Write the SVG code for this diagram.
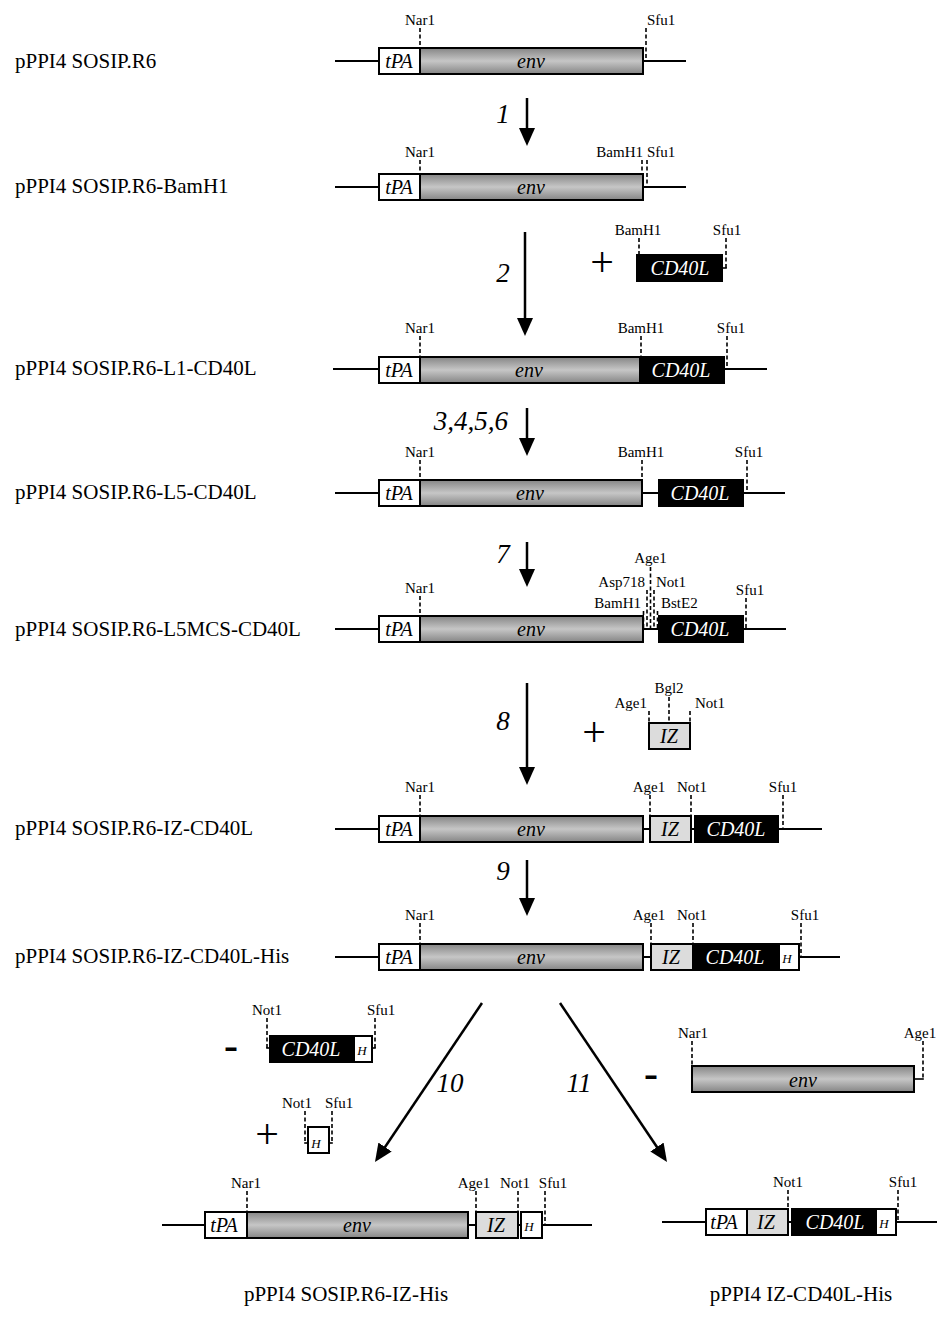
<svg xmlns="http://www.w3.org/2000/svg" width="938" height="1320" viewBox="0 0 938 1320">
<defs>
<linearGradient id="envg" x1="0" y1="0" x2="0" y2="1">
<stop offset="0" stop-color="#858585"/>
<stop offset="0.5" stop-color="#c6c6c6"/>
<stop offset="1" stop-color="#858585"/>
</linearGradient>
<marker id="ah" markerUnits="userSpaceOnUse" viewBox="0 0 18 16" markerWidth="18" markerHeight="16" refX="6" refY="8" orient="auto">
<path d="M0,0 L18,8 L0,16 z" fill="#000"/>
</marker>
</defs>
<style>
.ln{stroke:#000;stroke-width:2;fill:none}
.bx{stroke:#000;stroke-width:2}
.wt{fill:#fff}
.env{fill:url(#envg)}
.cd{fill:#000}
.iz{fill:#dcdcdc}
.cut{stroke:#000;stroke-width:1.6;stroke-dasharray:4 2.5;fill:none}
.tk{stroke:#000;stroke-width:1.6;fill:none}
.site{font-family:"Liberation Serif",serif;font-size:15px;fill:#000}
.mid{text-anchor:middle}
.end{text-anchor:end}
.title{font-family:"Liberation Serif",serif;font-size:21px;fill:#000}
.it{font-family:"Liberation Serif",serif;font-style:italic;font-size:20px;text-anchor:middle;fill:#000}
.itw{fill:#fff}
.hs{font-size:13px}
.step{font-family:"Liberation Serif",serif;font-style:italic;font-size:27px;fill:#000}
.sym{font-family:"Liberation Serif",serif;font-size:42px;text-anchor:middle;fill:#000}
.minus{font-weight:bold}
.arr{stroke:#000;stroke-width:2.5;fill:none;marker-end:url(#ah)}
</style>

<g id="titles">
<text class="title" x="15" y="68">pPPI4 SOSIP.R6</text>
<text class="title" x="15" y="193">pPPI4 SOSIP.R6-BamH1</text>
<text class="title" x="15" y="375">pPPI4 SOSIP.R6-L1-CD40L</text>
<text class="title" x="15" y="499">pPPI4 SOSIP.R6-L5-CD40L</text>
<text class="title" x="15" y="636">pPPI4 SOSIP.R6-L5MCS-CD40L</text>
<text class="title" x="15" y="835">pPPI4 SOSIP.R6-IZ-CD40L</text>
<text class="title" x="15" y="963">pPPI4 SOSIP.R6-IZ-CD40L-His</text>
<text class="title mid" x="346" y="1301">pPPI4 SOSIP.R6-IZ-His</text>
<text class="title mid" x="801" y="1301">pPPI4 IZ-CD40L-His</text>
</g>

<g id="connectors">
<line class="arr" x1="527" y1="98" x2="527" y2="134"/>
<line class="arr" x1="525" y1="232" x2="525" y2="324"/>
<line class="arr" x1="527" y1="408" x2="527" y2="444"/>
<line class="arr" x1="527" y1="542" x2="527" y2="575"/>
<line class="arr" x1="527" y1="683" x2="527" y2="773"/>
<line class="arr" x1="527" y1="860" x2="527" y2="904"/>
<line class="arr" x1="482" y1="1003" x2="381.7" y2="1152"/>
<line class="arr" x1="560" y1="1003" x2="660.3" y2="1152"/>
<text class="step mid" x="503" y="123">1</text>
<text class="step mid" x="503" y="282">2</text>
<text class="step end" x="508" y="430">3,4,5,6</text>
<text class="step mid" x="503" y="563">7</text>
<text class="step mid" x="503" y="730">8</text>
<text class="step mid" x="503" y="880">9</text>
<text class="step mid" x="450" y="1092">10</text>
<text class="step mid" x="579" y="1092">11</text>
</g>

<g id="row1">
<line class="ln" x1="335" y1="61" x2="686" y2="61"/>
<rect class="bx wt" x="379" y="48" width="41" height="26"/>
<rect class="bx env" x="420" y="48" width="223" height="26"/>
<text class="it" x="399" y="68">tPA</text>
<text class="it" x="531" y="68">env</text>
<text class="site mid" x="420" y="25">Nar1</text>
<line class="cut" x1="420" y1="28" x2="420" y2="48"/>
<text class="site" x="647" y="25">Sfu1</text>
<line class="cut" x1="646" y1="28" x2="646" y2="61"/>
</g>

<g id="row2">
<line class="ln" x1="335" y1="187" x2="686" y2="187"/>
<rect class="bx wt" x="379" y="174" width="41" height="26"/>
<rect class="bx env" x="420" y="174" width="223" height="26"/>
<text class="it" x="399" y="194">tPA</text>
<text class="it" x="531" y="194">env</text>
<text class="site mid" x="420" y="157">Nar1</text>
<line class="cut" x1="420" y1="160" x2="420" y2="174"/>
<text class="site end" x="643" y="157">BamH1</text>
<line class="cut" x1="642" y1="160" x2="642" y2="174"/>
<text class="site" x="647" y="157">Sfu1</text>
<line class="cut" x1="647" y1="160" x2="647" y2="187"/>
</g>

<g id="cd40l-insert">
<text class="sym" x="602" y="276">+</text>
<rect class="bx cd" x="637" y="255" width="85" height="26"/>
<text class="it itw" x="680" y="275">CD40L</text>
<text class="site mid" x="638" y="235">BamH1</text>
<line class="cut" x1="639" y1="238" x2="639" y2="255"/>
<text class="site mid" x="727" y="235">Sfu1</text>
<line class="cut" x1="726" y1="238" x2="726" y2="268"/>
<line class="tk" x1="722" y1="268" x2="726.8" y2="268"/>
</g>

<g id="row3">
<line class="ln" x1="333" y1="369" x2="767" y2="369"/>
<rect class="bx wt" x="379" y="357" width="41" height="26"/>
<rect class="bx env" x="420" y="357" width="220" height="26"/>
<rect class="bx cd" x="640" y="357" width="84" height="26"/>
<text class="it" x="399" y="377">tPA</text>
<text class="it" x="529" y="377">env</text>
<text class="it itw" x="681" y="377">CD40L</text>
<text class="site mid" x="420" y="333">Nar1</text>
<line class="cut" x1="420" y1="336" x2="420" y2="357"/>
<text class="site mid" x="641" y="333">BamH1</text>
<line class="cut" x1="641" y1="336" x2="641" y2="357"/>
<text class="site mid" x="731" y="333">Sfu1</text>
<line class="cut" x1="727" y1="336" x2="727" y2="369"/>
</g>

<g id="row4">
<line class="ln" x1="335" y1="493" x2="785" y2="493"/>
<rect class="bx wt" x="379" y="480" width="41" height="26"/>
<rect class="bx env" x="420" y="480" width="222" height="26"/>
<rect class="bx cd" x="659" y="480" width="84" height="26"/>
<text class="it" x="399" y="500">tPA</text>
<text class="it" x="530" y="500">env</text>
<text class="it itw" x="700" y="500">CD40L</text>
<text class="site mid" x="420" y="457">Nar1</text>
<line class="cut" x1="420" y1="460" x2="420" y2="480"/>
<text class="site mid" x="641" y="457">BamH1</text>
<line class="cut" x1="642" y1="460" x2="642" y2="480"/>
<text class="site mid" x="749" y="457">Sfu1</text>
<line class="cut" x1="747" y1="460" x2="747" y2="493"/>
</g>

<g id="row5">
<line class="ln" x1="335" y1="629" x2="786" y2="629"/>
<rect class="bx wt" x="379" y="616" width="41" height="26"/>
<rect class="bx env" x="420" y="616" width="223" height="26"/>
<rect class="bx cd" x="659" y="616" width="84" height="26"/>
<text class="it" x="399" y="636">tPA</text>
<text class="it" x="531" y="636">env</text>
<text class="it itw" x="700" y="636">CD40L</text>
<text class="site mid" x="420" y="593">Nar1</text>
<line class="cut" x1="420" y1="596" x2="420" y2="616"/>
<text class="site mid" x="750" y="595">Sfu1</text>
<line class="cut" x1="746" y1="598" x2="746" y2="629"/>
<text class="site mid" x="650.5" y="563">Age1</text>
<text class="site end" x="645" y="587">Asp718</text>
<text class="site" x="656" y="587">Not1</text>
<text class="site end" x="641" y="608">BamH1</text>
<text class="site" x="661" y="608">BstE2</text>
<line class="cut" x1="643.5" y1="611" x2="643.5" y2="629"/>
<line class="cut" x1="647" y1="590" x2="647" y2="629"/>
<line class="cut" x1="650.5" y1="567" x2="650.5" y2="629"/>
<line class="cut" x1="654" y1="590" x2="654" y2="629"/>
<line class="cut" x1="657.5" y1="611" x2="657.5" y2="629"/>
</g>

<g id="iz-insert">
<text class="sym" x="594" y="746">+</text>
<rect class="bx iz" x="649" y="723" width="41" height="26"/>
<text class="it" x="669" y="743">IZ</text>
<text class="site end" x="647" y="708">Age1</text>
<line class="cut" x1="649" y1="711" x2="649" y2="723"/>
<text class="site mid" x="669" y="693">Bgl2</text>
<line class="cut" x1="669" y1="697" x2="669" y2="723"/>
<text class="site" x="695" y="708">Not1</text>
<line class="cut" x1="690" y1="711" x2="690" y2="723"/>
</g>

<g id="row7">
<line class="ln" x1="335" y1="829" x2="822" y2="829"/>
<rect class="bx wt" x="379" y="816" width="41" height="26"/>
<rect class="bx env" x="420" y="816" width="223" height="26"/>
<rect class="bx iz" x="650" y="816" width="41" height="26"/>
<rect class="bx cd" x="695" y="816" width="83" height="26"/>
<text class="it" x="399" y="836">tPA</text>
<text class="it" x="531" y="836">env</text>
<text class="it" x="670" y="836">IZ</text>
<text class="it itw" x="736" y="836">CD40L</text>
<text class="site mid" x="420" y="792">Nar1</text>
<line class="cut" x1="420" y1="795" x2="420" y2="816"/>
<text class="site mid" x="649" y="792">Age1</text>
<line class="cut" x1="650" y1="795" x2="650" y2="816"/>
<text class="site mid" x="692" y="792">Not1</text>
<line class="cut" x1="691" y1="795" x2="691" y2="816"/>
<text class="site mid" x="783" y="792">Sfu1</text>
<line class="cut" x1="783" y1="795" x2="783" y2="829"/>
</g>

<g id="row8">
<line class="ln" x1="335" y1="957" x2="840" y2="957"/>
<rect class="bx wt" x="379" y="944" width="41" height="26"/>
<rect class="bx env" x="420" y="944" width="223" height="26"/>
<rect class="bx iz" x="651" y="944" width="42" height="26"/>
<rect class="bx cd" x="695" y="944" width="84" height="26"/>
<rect class="bx wt" x="779" y="944" width="20" height="26"/>
<text class="it" x="399" y="964">tPA</text>
<text class="it" x="531" y="964">env</text>
<text class="it" x="671" y="964">IZ</text>
<text class="it itw" x="735" y="964">CD40L</text>
<text class="it hs" x="787" y="963">H</text>
<text class="site mid" x="420" y="920">Nar1</text>
<line class="cut" x1="420" y1="923" x2="420" y2="944"/>
<text class="site mid" x="649" y="920">Age1</text>
<line class="cut" x1="651" y1="923" x2="651" y2="944"/>
<text class="site mid" x="692" y="920">Not1</text>
<line class="cut" x1="693" y1="923" x2="693" y2="944"/>
<text class="site mid" x="805" y="920">Sfu1</text>
<line class="cut" x1="801" y1="923" x2="801" y2="957"/>
</g>

<g id="cd40l-his-removed">
<text class="sym minus" x="231" y="1059">-</text>
<rect class="bx cd" x="270" y="1036" width="84" height="26"/>
<rect class="bx wt" x="354" y="1036" width="18" height="26"/>
<text class="it itw" x="311" y="1056">CD40L</text>
<text class="it hs" x="362" y="1055">H</text>
<text class="site mid" x="267" y="1015">Not1</text>
<line class="cut" x1="267" y1="1018" x2="267" y2="1048"/>
<line class="tk" x1="266.2" y1="1048" x2="270" y2="1048"/>
<text class="site" x="367" y="1015">Sfu1</text>
<line class="cut" x1="375" y1="1018" x2="375" y2="1048"/>
<line class="tk" x1="372" y1="1048" x2="375.8" y2="1048"/>
</g>

<g id="his-insert">
<text class="sym" x="267" y="1148">+</text>
<rect class="bx wt" x="308" y="1127" width="21" height="26"/>
<text class="it hs" x="316" y="1148">H</text>
<text class="site end" x="312" y="1108">Not1</text>
<line class="cut" x1="305" y1="1111" x2="305" y2="1143"/>
<line class="tk" x1="304.2" y1="1143" x2="308" y2="1143"/>
<text class="site" x="325" y="1108">Sfu1</text>
<line class="cut" x1="332" y1="1111" x2="332" y2="1143"/>
<line class="tk" x1="329" y1="1143" x2="332.8" y2="1143"/>
</g>

<g id="env-removed">
<text class="sym minus" x="651" y="1087">-</text>
<rect class="bx env" x="692" y="1066" width="222" height="26"/>
<text class="it" x="803" y="1087">env</text>
<text class="site mid" x="693" y="1038">Nar1</text>
<line class="cut" x1="692" y1="1041" x2="692" y2="1066"/>
<text class="site mid" x="920" y="1038">Age1</text>
<line class="cut" x1="923" y1="1041" x2="923" y2="1079"/>
<line class="tk" x1="914" y1="1079" x2="923.8" y2="1079"/>
</g>

<g id="iz-his">
<line class="ln" x1="162" y1="1225" x2="592" y2="1225"/>
<rect class="bx wt" x="205" y="1212" width="42" height="26"/>
<rect class="bx env" x="247" y="1212" width="221" height="26"/>
<rect class="bx iz" x="476" y="1212" width="42" height="26"/>
<rect class="bx wt" x="521" y="1212" width="21" height="26"/>
<text class="it" x="224" y="1232">tPA</text>
<text class="it" x="357" y="1232">env</text>
<text class="it" x="496" y="1232">IZ</text>
<text class="it hs" x="529" y="1231">H</text>
<text class="site mid" x="246" y="1188">Nar1</text>
<line class="cut" x1="247" y1="1191" x2="247" y2="1212"/>
<text class="site mid" x="474" y="1188">Age1</text>
<line class="cut" x1="476" y1="1191" x2="476" y2="1212"/>
<text class="site mid" x="515" y="1188">Not1</text>
<line class="cut" x1="518" y1="1191" x2="518" y2="1212"/>
<text class="site mid" x="553" y="1188">Sfu1</text>
<line class="cut" x1="545" y1="1191" x2="545" y2="1225"/>
</g>

<g id="iz-cd40l-his">
<line class="ln" x1="662" y1="1222" x2="937" y2="1222"/>
<rect class="bx wt" x="706" y="1209" width="41" height="26"/>
<rect class="bx iz" x="747" y="1209" width="41" height="26"/>
<rect class="bx cd" x="792" y="1209" width="84" height="26"/>
<rect class="bx wt" x="876" y="1209" width="20" height="26"/>
<text class="it" x="724" y="1229">tPA</text>
<text class="it" x="766" y="1229">IZ</text>
<text class="it itw" x="835" y="1229">CD40L</text>
<text class="it hs" x="884" y="1228">H</text>
<text class="site mid" x="788" y="1187">Not1</text>
<line class="cut" x1="788" y1="1190" x2="788" y2="1209"/>
<text class="site mid" x="903" y="1187">Sfu1</text>
<line class="cut" x1="898" y1="1190" x2="898" y2="1222"/>
</g>
</svg>
